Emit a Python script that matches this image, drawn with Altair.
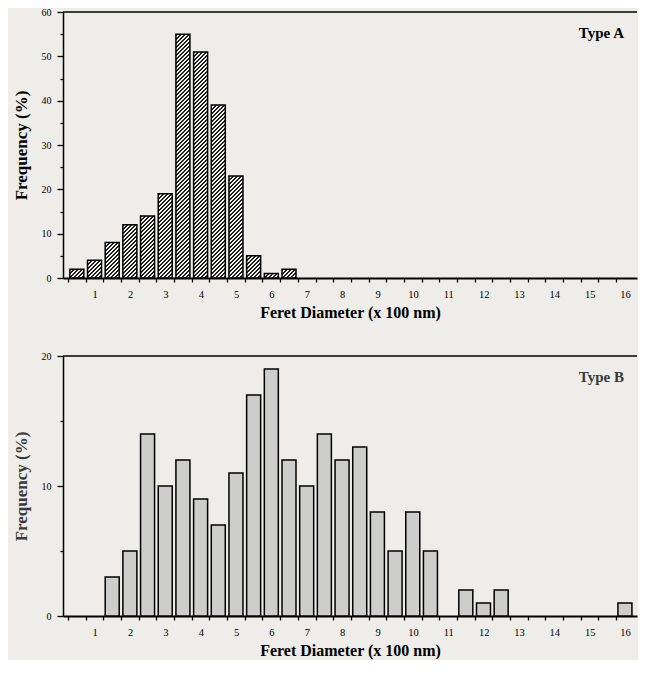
import altair as alt
import pandas as pd

# ---------------- data ----------------
a_diam = [0.5, 1.0, 1.5, 2.0, 2.5, 3.0, 3.5, 4.0, 4.5, 5.0, 5.5, 6.0, 6.5]
a_freq = [2, 4, 8, 12, 14, 19, 55, 51, 39, 23, 5, 1, 2]

b_diam = [1.5, 2.0, 2.5, 3.0, 3.5, 4.0, 4.5, 5.0, 5.5, 6.0, 6.5, 7.0, 7.5,
          8.0, 8.5, 9.0, 9.5, 10.0, 10.5, 11.5, 12.0, 12.5, 16.0]
b_freq = [3, 5, 14, 10, 12, 9, 7, 11, 17, 19, 12, 10, 14,
          12, 13, 8, 5, 8, 5, 2, 1, 2, 1]

x_tick_values = [0.25 + 0.5 * i for i in range(32)]
a_y_ticks = [0, 5, 10, 15, 20, 25, 30, 35, 40, 45, 50, 55, 60]
b_y_ticks = [0, 5, 10, 15, 20]

# ---------------- style ----------------
W = 574
HA = 266
HB = 260
XDOM = [0.25, 16.2]
BAR_W = 14
FONT = "Liberation Serif"
BG = "#eeede9"
UNIT_PX = W / (XDOM[1] - XDOM[0])


def hatch(h, w=BAR_W, period=4.0, frac=0.5, dark="#1e1e1e", light="#f4f4f2"):
    L = w + h
    k = L / (w * w + h * h)
    stops = []
    c = 0.0
    while c < L:
        c1 = min(c + frac * period, L)
        c2 = min(c + period, L)
        stops += [alt.GradientStop(color=dark, offset=c / L),
                  alt.GradientStop(color=dark, offset=c1 / L),
                  alt.GradientStop(color=light, offset=c1 / L),
                  alt.GradientStop(color=light, offset=c2 / L)]
        c += period
    return alt.LinearGradient(gradient="linear", stops=stops,
                              x1=0, y1=0, x2=w * k, y2=h * k)


def x_axis():
    return alt.Axis(
        values=x_tick_values,
        labelExpr="(datum.value - 0.75) % 1 === 0 ? format(datum.value + 0.25, 'd') : ''",
        labelOffset=UNIT_PX * 0.25,
        labelFlush=False, labelOverlap=False,
        tickSize=4, tickWidth=1.3, tickColor="black",
        domainColor="black", domainWidth=2,
        labelFont=FONT, labelFontSize=10.5, labelColor="black", labelPadding=7,
        title="Feret Diameter (x 100 nm)", titleFont=FONT, titleFontSize=16,
        titleFontWeight="bold", titleColor="black", titlePadding=5,
        grid=False,
    )


def y_axis(vals, color):
    return alt.Axis(
        values=vals,
        labelExpr="datum.value % 10 === 0 ? datum.label : ''",
        labelFlush=False,
        tickSize={"condition": {"test": "datum.value % 10 !== 0", "value": 3}, "value": 6},
        tickWidth=1.3, tickColor="black",
        domainColor="black", domainWidth=1.5,
        labelFont=FONT, labelFontSize=10, labelColor="black", labelPadding=6,
        title="Frequency (%)", titleFont=FONT, titleFontSize=17,
        titleFontWeight="bold", titleColor=color, titlePadding=11,
        grid=False,
    )


def panel(diam, freq, ymax, yticks, H, label, color, fill=None):
    df = pd.DataFrame({"d": diam, "f": freq})
    xenc = alt.X("d:Q", scale=alt.Scale(domain=XDOM, nice=False, zero=False), axis=x_axis())
    yenc = alt.Y("f:Q", scale=alt.Scale(domain=[0, ymax], nice=False), axis=y_axis(yticks, color))
    layers = []
    if fill is None:
        for d, f in zip(diam, freq):
            sub = pd.DataFrame({"d": [d], "f": [f]})
            layers.append(
                alt.Chart(sub).mark_bar(size=BAR_W, fill=hatch(f * H / ymax),
                                        stroke="black", strokeWidth=1.5)
                .encode(x=xenc, y=yenc)
            )
    else:
        layers.append(
            alt.Chart(df).mark_bar(size=BAR_W, fill=fill, stroke="black", strokeWidth=1.5)
            .encode(x=xenc, y=yenc)
        )
    top = alt.Chart(pd.DataFrame({"a": [0]})).mark_rule(color="black", strokeWidth=1.5).encode(
        x=alt.value(0), x2=alt.value(W), y=alt.value(0))
    txt = alt.Chart(pd.DataFrame({"t": [label]})).mark_text(
        align="right", baseline="middle", font=FONT, fontSize=15,
        fontWeight="bold", color=color).encode(
        text="t:N", x=alt.value(W - 13), y=alt.value(21))
    return alt.layer(*layers, top, txt).properties(width=W, height=H)


pa = panel(a_diam, a_freq, 60, a_y_ticks, HA, "Type A", "black")
pb = panel(b_diam, b_freq, 20, b_y_ticks, HB, "Type B", "#3a3a3a", fill="#cdcdcb")

chart = alt.vconcat(pa, pb, spacing=30).properties(
    background=BG, padding={"left": 4, "top": -1, "right": 0, "bottom": 1}
).configure_view(stroke=None)

chart.save("out.html", embed_options={"renderer": "svg", "actions": False})
